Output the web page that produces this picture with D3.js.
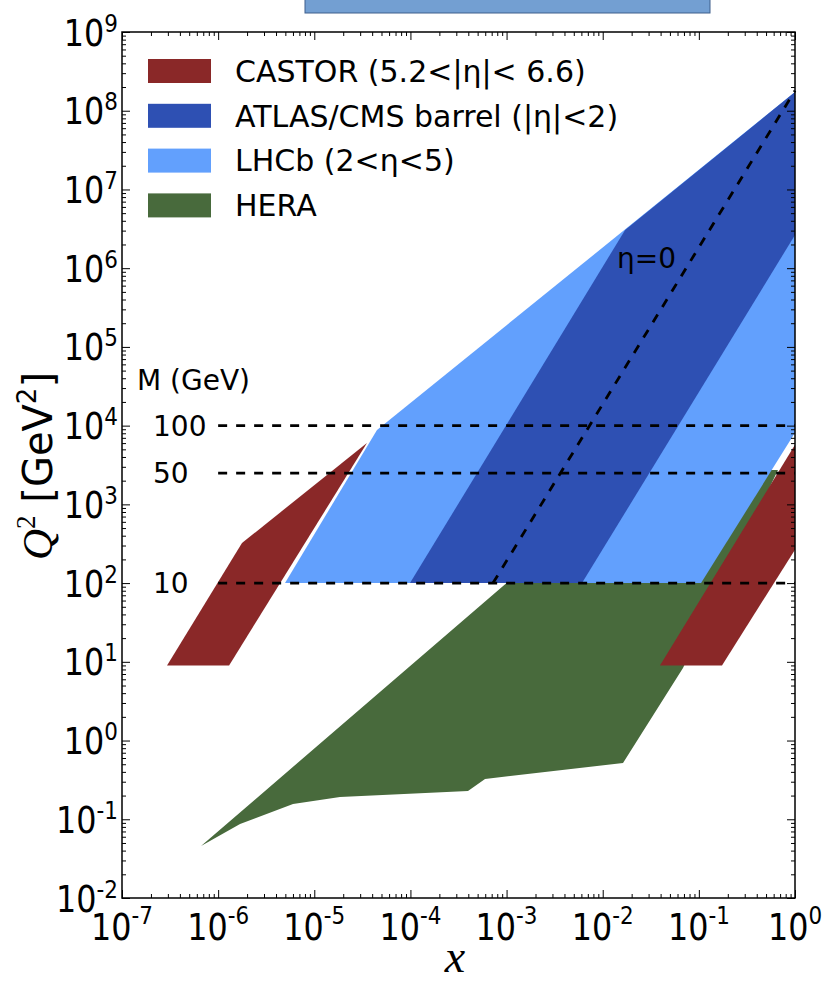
<!DOCTYPE html>
<html>
<head>
<meta charset="utf-8">
<script src="https://cdn.jsdelivr.net/npm/d3@7"></script>
<style>
  body { margin: 0; background: #fff; }
  text { font-family: "DejaVu Sans", sans-serif; fill: #000; }
</style>
</head>
<body>
<div id="chart"></div>
<script>
// kinematic regions, each vertex is [x, Q^2 in GeV^2]
const castorLow = [[2.94e-7, 9], [1.77e-6, 323], [3.53e-5, 6.0e3], [1.30e-6, 9]]
const castorHigh = [[0.0394, 9], [1, 5.7e3], [1, 265], [0.174, 9]]
const lhcb = [[4.96e-6, 100], [4.49e-5, 8.8e3], [1, 1.73e8], [1, 8.1e3], [0.1054, 100]]
const atlas = [[9.9e-5, 100], [0.0171, 3.06e6], [1, 1.73e8], [1, 2.64e6], [6.09e-3, 100]]
const hera = [[6.64e-7, 0.0458], [1e-3, 100], [0.10, 100], [0.43, 2730], [0.665, 2730],
  [0.0684, 8.36], [0.01626, 0.519], [5.97e-4, 0.325], [3.97e-4, 0.229],
  [1.85e-5, 0.192], [6.01e-6, 0.156], [1.69e-6, 0.087]]
const etaZero = [[7.22e-4, 100], [1, 1.8e8]]

// dashed lines of fixed mass
const massQ2 = [1e4, 2500, 100]
const massLabels = ["100", "50", "10"]
const massFrom = 1e-6

const legendNames = ["CASTOR (5.2<|η|< 6.6)", "ATLAS/CMS barrel (|η|<2)", "LHCb (2<η<5)", "HERA"]
const legendColors = ["#8a2828", "#2e50b3", "#62a0fd", "#486a3c"]

const xTickExps = [-7, -6, -5, -4, -3, -2, -1, 0]
const yTickExps = [-2, -1, 0, 1, 2, 3, 4, 5, 6, 7, 8, 9]

const width = 824, height = 983
const pl = 122, pr = 795, pt = 32, pb = 898

let svg = d3.select("#chart").append("svg")
  .attr("width", width).attr("height", height)
  .style("display", "block")

let x = d3.scaleLog().domain([1e-7, 1]).range([pl, pr])
let y = d3.scaleLog().domain([1e-2, 1e9]).range([pb, pt])

// the bar left over from the slide at the top
svg.append("rect").attr("x", 305).attr("y", -2).attr("width", 405).attr("height", 15)
  .attr("fill", "#739fd2").attr("stroke", "#3e5f8c").attr("stroke-width", 1)

let line = d3.line().x(d => x(d[0])).y(d => y(d[1]))
let area = pts => line(pts) + "Z"

let plot = svg.append("g")
plot.append("path").attr("d", area(hera)).attr("fill", legendColors[3])
plot.append("path").attr("d", area(lhcb)).attr("fill", legendColors[2])
plot.append("path").attr("d", area(atlas)).attr("fill", legendColors[1])
plot.append("path").attr("d", area(castorLow)).attr("fill", legendColors[0])
plot.append("path").attr("d", area(castorHigh)).attr("fill", legendColors[0])

// mass lines
massQ2.forEach((q, i) => {
  plot.append("path").attr("d", line([[massFrom, q], [1, q]]))
    .attr("stroke", "#000").attr("stroke-width", 2.8).attr("stroke-dasharray", "9,9")
    .attr("fill", "none")
  svg.append("text").attr("x", 153).attr("y", y(q)).attr("dy", "0.36em")
    .attr("font-size", 28).text(massLabels[i])
})
svg.append("text").attr("x", 137).attr("y", 380).attr("dy", "0.36em")
  .attr("font-size", 28).text("M (GeV)")

plot.append("path").attr("d", line(etaZero))
  .attr("stroke", "#000").attr("stroke-width", 2.8).attr("stroke-dasharray", "9,9")
  .attr("fill", "none")
svg.append("text").attr("x", 617).attr("y", 268).attr("font-size", 28).text("η=0")

// legend
let leg = svg.append("g")
legendNames.forEach((n, i) => {
  let cy = 71 + i * 44.8
  leg.append("rect").attr("x", 148).attr("y", cy - 12).attr("width", 63).attr("height", 24)
    .attr("fill", legendColors[i])
  leg.append("text").attr("x", 235).attr("y", cy).attr("dy", "0.36em")
    .attr("font-size", 30).text(n)
})

// axes, ticks pointing inwards
let minor = []
for (let e = -7; e < 9; e++) for (let k = 2; k < 10; k++) minor.push(k * Math.pow(10, e))
let xMinor = minor.filter(v => v > 1e-7 && v < 1)
let yMinor = minor.filter(v => v > 1e-2 && v < 1e9)
let xMajor = xTickExps.map(e => Math.pow(10, e))
let yMajor = yTickExps.map(e => Math.pow(10, e))

let axes = [
  [d3.axisBottom(x), `translate(0,${pb})`, xMajor, xMinor],
  [d3.axisTop(x), `translate(0,${pt})`, xMajor, xMinor],
  [d3.axisLeft(y), `translate(${pl},0)`, yMajor, yMinor],
  [d3.axisRight(y), `translate(${pr},0)`, yMajor, yMinor]
]
axes.forEach(a => {
  let g1 = svg.append("g").attr("transform", a[1])
    .call(a[0].tickValues(a[2]).tickSizeInner(-8).tickSizeOuter(0).tickFormat(""))
  let g2 = svg.append("g").attr("transform", a[1])
    .call(a[0].tickValues(a[3]).tickSizeInner(-4).tickSizeOuter(0).tickFormat(""))
  g1.select(".domain").remove()
  g2.select(".domain").remove()
  svg.selectAll(".tick line").attr("stroke", "#000").attr("stroke-width", 1)
})

svg.append("rect").attr("x", pl).attr("y", pt)
  .attr("width", pr - pl).attr("height", pb - pt)
  .attr("fill", "none").attr("stroke", "#000").attr("stroke-width", 1.5)

// tick labels as 10 with a superscript, a bit narrowed like the original
const squeeze = 0.86
xTickExps.forEach(e => {
  let t = svg.append("text")
    .attr("transform", `translate(${x(Math.pow(10, e))},940) scale(${squeeze},1)`)
    .attr("text-anchor", "middle").attr("font-size", 37)
  t.append("tspan").text("10")
  t.append("tspan").attr("dy", -16).attr("font-size", 25).text(e)
})
yTickExps.forEach(e => {
  let t = svg.append("text")
    .attr("transform", `translate(118,${y(Math.pow(10, e)) + 13.5}) scale(${squeeze},1)`)
    .attr("text-anchor", "end").attr("font-size", 37)
  t.append("tspan").text("10")
  t.append("tspan").attr("dy", -14).attr("font-size", 25).text(e)
})

// axis titles
svg.append("text").attr("x", 455).attr("y", 972).attr("text-anchor", "middle")
  .attr("font-size", 46).style("font-family", "'Liberation Serif', serif")
  .attr("font-style", "italic").text("x")

let yl = svg.append("text").attr("transform", "translate(52,466) rotate(-90)")
  .attr("text-anchor", "middle").attr("font-size", 40)
yl.append("tspan").style("font-family", "'Liberation Serif', serif")
  .attr("font-style", "italic").attr("font-size", 43).text("Q")
yl.append("tspan").style("font-family", "'Liberation Serif', serif")
  .attr("font-size", 27).attr("dy", -17).text("2")
yl.append("tspan").attr("dy", 17).text(" [GeV")
yl.append("tspan").attr("font-size", 26).attr("dy", -16).text("2")
yl.append("tspan").attr("dy", 16).text("]")
</script>
</body>
</html>
